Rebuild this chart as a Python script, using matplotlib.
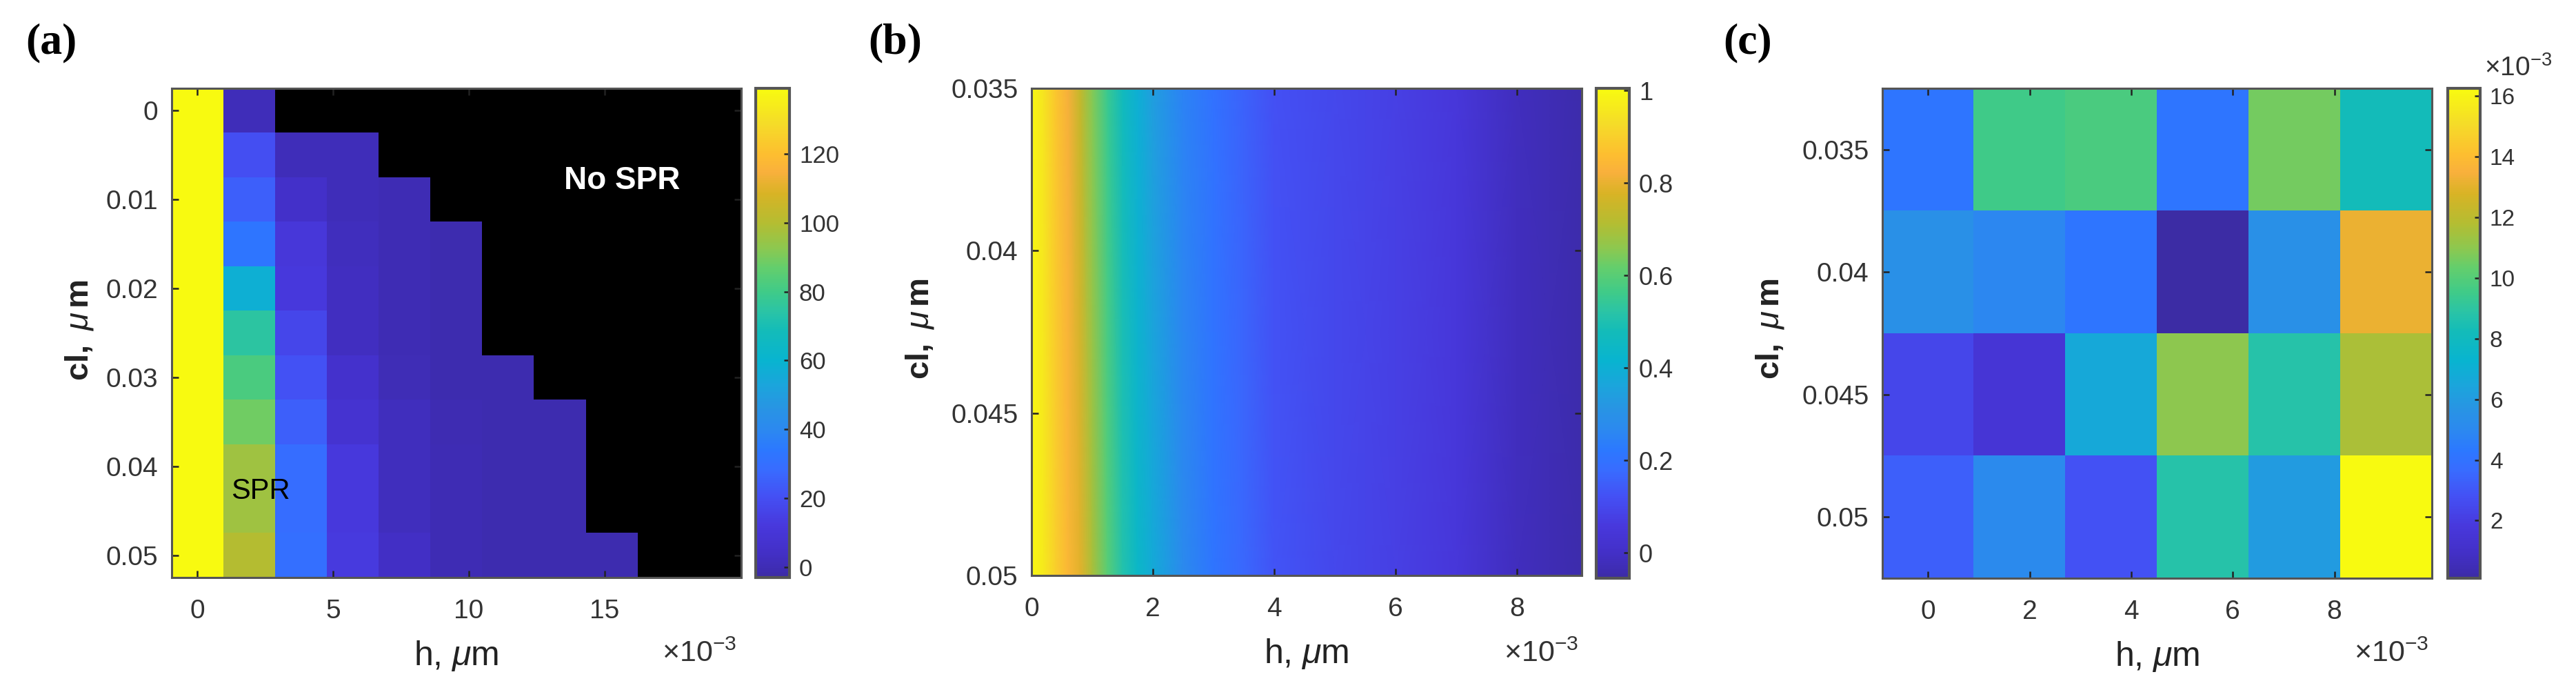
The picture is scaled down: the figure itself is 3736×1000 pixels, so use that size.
import numpy as np
import matplotlib
matplotlib.use('Agg')
import matplotlib.pyplot as plt
from matplotlib.colors import LinearSegmentedColormap

plt.rcParams['font.family'] = ['Liberation Sans', 'DejaVu Sans']
plt.rcParams['mathtext.fontset'] = 'custom'
plt.rcParams['mathtext.rm'] = 'Liberation Sans'
plt.rcParams['mathtext.it'] = 'Liberation Sans:italic'
plt.rcParams['mathtext.bf'] = 'Liberation Sans:bold'

W, H = 3736, 1000

# panel (a): rows are cl, columns are h, nan = no SPR
a_h = [0, 1.909, 3.818, 5.727, 7.636, 9.545, 11.454, 13.363, 15.272, 17.181, 19.09]
a_cl = [0, 0.005, 0.01, 0.015, 0.02, 0.025, 0.03, 0.035, 0.04, 0.045, 0.05]
nan = np.nan
a_values = [
    [139, 1, nan, nan, nan, nan, nan, nan, nan, nan, nan],
    [139, 20, 1, 1, nan, nan, nan, nan, nan, nan, nan],
    [139, 25, 5, 1, 0, nan, nan, nan, nan, nan, nan],
    [139, 32.5, 11, 2, 0, -1, nan, nan, nan, nan, nan],
    [139, 58, 12, 3, 0, -1, nan, nan, nan, nan, nan],
    [139, 75, 17, 3, 0, -1, nan, nan, nan, nan, nan],
    [139, 82, 21, 6, 0.5, -1, -1, nan, nan, nan, nan],
    [139, 89, 25, 8, 2, -0.5, -1, -1, nan, nan, nan],
    [139, 96, 29, 12, 2, 0, -1, -1, nan, nan, nan],
    [139, 96, 29, 12, 2.5, 0, -1, -1, nan, nan, nan],
    [139, 100, 30, 13, 4, 0, -1, -1, -1, nan, nan],
]

# panel (b): profile along h at the two ends of cl
b_h = [0, 0.2, 0.4, 0.6, 0.8, 1.0, 1.25, 1.5, 1.75, 2.0, 2.5, 3.0, 3.5, 4.0, 5.0, 6.0, 7.0, 8.0, 9.07]
b_top = [1.0, 0.95, 0.88, 0.82, 0.74, 0.65, 0.55, 0.47, 0.40, 0.34, 0.25, 0.20, 0.16, 0.12, 0.10, 0.08, 0.05, -0.015, -0.045]
b_bottom = [1.0, 0.96, 0.90, 0.84, 0.79, 0.70, 0.60, 0.51, 0.44, 0.38, 0.27, 0.21, 0.17, 0.13, 0.10, 0.08, 0.05, -0.015, -0.045]
b_cl = [0.035, 0.05]

# panel (c), x 1e-3
c_values = [
    [4.2, 9.55, 9.8, 4.2, 10.6, 8.2],
    [5.4, 4.9, 4.2, 0.1, 5.4, 13.2],
    [2.4, 1.55, 6.6, 11.0, 8.8, 11.6],
    [3.3, 5.1, 2.85, 8.8, 6.0, 16.25],
]

cmap_pos = [0, 0.012, 0.052, 0.104, 0.165, 0.22, 0.26, 0.30, 0.344, 0.39, 0.444, 0.506, 0.54,
            0.585, 0.635, 0.673, 0.725, 0.786, 0.83, 0.866, 0.93, 1]
cmap_col = ['#3c2ca4', '#3e2cb0', '#4330c8', '#4838dc', '#4450f4', '#386cff', '#2c78ff', '#2c88f0',
            '#2894e4', '#1ca4dc', '#08b4d0', '#14bcb8', '#28c3a8', '#40cb88', '#64ce6c', '#8cc850',
            '#b4bd32', '#d8b325', '#f9b03c', '#fdbe30', '#f5dc28', '#f8fa10']
parula = LinearSegmentedColormap.from_list('parula', list(zip(cmap_pos, cmap_col)), N=256)
parula.set_bad('black')

fig = plt.figure(figsize=(W / 100, H / 100), dpi=100)


def make_axes(left, right, top, bottom):
    return fig.add_axes([left / W, 1 - bottom / H, (right - left) / W, (bottom - top) / H])


def put_text(x, y, s, **kw):
    fig.text(x / W, 1 - y / H, s, ha='center', va='center', **kw)


def style(ax, cax, xticks, yticks, ylabels, cticks, clabels, csize):
    ax.set_xticks(xticks)
    ax.set_xticklabels([str(t) for t in xticks])
    ax.set_yticks(yticks)
    ax.set_yticklabels(ylabels)
    ax.tick_params(direction='in', length=7, width=1.8, labelsize=28, top=True, right=True, pad=14, color='#222222', labelcolor='#333333')
    ax.tick_params(axis='x', pad=22)
    ax.set_xlabel(r'h, $\mu$m', fontsize=36, color='#222222', labelpad=16)
    for s in ax.spines.values():
        s.set_linewidth(2.2)
        s.set_color('#555555')
    cax.set_yticks(cticks)
    cax.set_yticklabels(clabels)
    cax.tick_params(direction='in', length=6, width=1.8, labelsize=csize, pad=10, color='#222222', labelcolor='#333333')
    cax.minorticks_off()


def finish_cbar(cb):
    cb.outline.set_linewidth(3)
    cb.outline.set_edgecolor('#555555')


# (a)
ax = make_axes(249, 1075, 128, 837)
cax = make_axes(1096, 1145, 128, 837)
im = ax.imshow(np.array(a_values), cmap=parula, vmin=-3, vmax=139, aspect='auto', interpolation='nearest',
               extent=[a_h[0] - 0.95, a_h[-1] + 0.95, a_cl[-1] + 0.0025, a_cl[0] - 0.0025])
cb = fig.colorbar(im, cax=cax)
style(ax, cax, [0, 5, 10, 15], [0, 0.01, 0.02, 0.03, 0.04, 0.05], ['0', '0.01', '0.02', '0.03', '0.04', '0.05'],
      [0, 20, 40, 60, 80, 100, 120], ['0', '20', '40', '60', '80', '100', '120'], 25)
finish_cbar(cb)
put_text(902, 262, 'No SPR', color='white', fontsize=33, fontweight='bold')
put_text(378, 712, 'SPR', color='black', fontsize=30)
put_text(1014, 948, r'$\times$10$^{-3}$', fontsize=31, color='#333333')
put_text(115, 478, r'$\mathbf{cl,}\ \mu\,\mathbf{m}$', fontsize=34, rotation=90, color='#222222')
put_text(74, 62, '(a)', family='Liberation Serif', fontweight='bold', fontsize=46, color='black')

# (b)
ax = make_axes(1496, 2294, 128, 834)
cax = make_axes(2315, 2363, 128, 838)
X, Y = np.meshgrid(b_h, b_cl)
im = ax.pcolormesh(X, Y, np.array([b_top, b_bottom]), cmap=parula, vmin=-0.055, vmax=1.005, shading='gouraud')
ax.set_xlim(0, 9.07)
ax.set_ylim(0.05, 0.035)
cb = fig.colorbar(im, cax=cax)
style(ax, cax, [0, 2, 4, 6, 8], [0.035, 0.04, 0.045, 0.05], ['0.035', '0.04', '0.045', '0.05'],
      [0, 0.2, 0.4, 0.6, 0.8, 1], ['0', '0.2', '0.4', '0.6', '0.8', '1'], 26)
finish_cbar(cb)
put_text(2235, 948, r'$\times$10$^{-3}$', fontsize=31, color='#333333')
put_text(1334, 476, r'$\mathbf{cl,}\ \mu\,\mathbf{m}$', fontsize=34, rotation=90, color='#222222')
put_text(1298, 62, '(b)', family='Liberation Serif', fontweight='bold', fontsize=46, color='black')

# (c)
ax = make_axes(2730, 3527, 128, 838)
cax = make_axes(3550, 3597, 128, 838)
im = ax.imshow(np.array(c_values), cmap=parula, vmin=0.1, vmax=16.25, aspect='auto', interpolation='nearest',
               extent=[-0.9, 9.92, 0.0525, 0.0325])
cb = fig.colorbar(im, cax=cax)
style(ax, cax, [0, 2, 4, 6, 8], [0.035, 0.04, 0.045, 0.05], ['0.035', '0.04', '0.045', '0.05'],
      [2, 4, 6, 8, 10, 12, 14, 16], ['2', '4', '6', '8', '10', '12', '14', '16'], 24)
finish_cbar(cb)
put_text(3468, 948, r'$\times$10$^{-3}$', fontsize=31, color='#333333')
put_text(3652, 99, r'$\times$10$^{-3}$', fontsize=28, color='#333333')
put_text(2567, 476, r'$\mathbf{cl,}\ \mu\,\mathbf{m}$', fontsize=34, rotation=90, color='#222222')
put_text(2535, 62, '(c)', family='Liberation Serif', fontweight='bold', fontsize=46, color='black')

fig.savefig('out.png', dpi=100)
